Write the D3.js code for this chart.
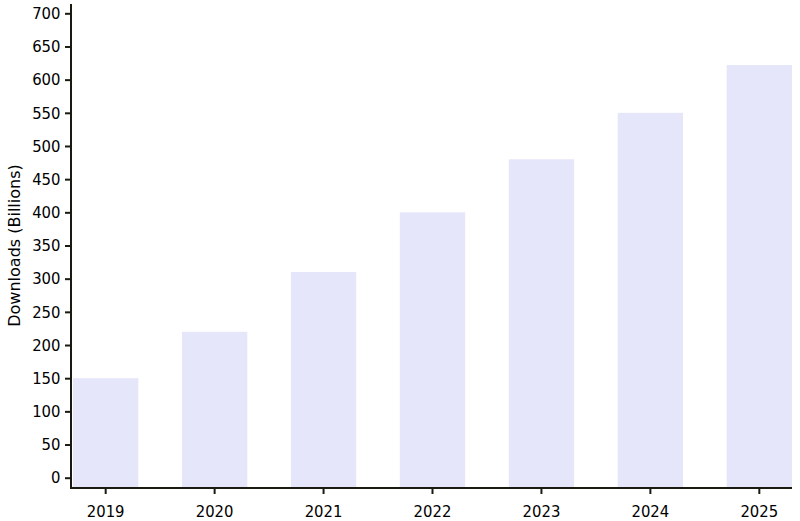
<!DOCTYPE html>
<html><head><meta charset="utf-8">
<script src="https://cdn.jsdelivr.net/npm/d3@7"></script>
<style>body{margin:0;background:#fff}svg{display:block}
.tick text{font-family:"Liberation Sans Narrow","DejaVu Sans Condensed",sans-serif}
.ylab{font-family:"DejaVu Sans",sans-serif}</style>
</head><body><svg id="c" width="800" height="521"></svg>
<script>
const years = ["2019","2020","2021","2022","2023","2024","2025"];
const downloads = [150, 220, 310, 400, 480, 550, 622];
const yTicks = [0,50,100,150,200,250,300,350,400,450,500,550,600,650,700];

const svg = d3.select("#c");
const axisColor = "#1a1a10";
const x = d3.scaleBand().domain(years).range([73, 792]).paddingInner(0.4).paddingOuter(0);
const y = d3.scaleLinear().domain([0, 700]).range([477.7, 13.3]);
const baseY = 487;

svg.append("g").selectAll("rect").data(years).join("rect")
  .attr("x", d => x(d)).attr("width", x.bandwidth())
  .attr("y", (d,i) => y(downloads[i])).attr("height", (d,i) => baseY - y(downloads[i]))
  .attr("fill", "#e6e6fa");

// y axis
const ya = svg.append("g").attr("transform","translate(71,0)")
  .call(d3.axisLeft(y).tickValues(yTicks).tickSize(6).tickPadding(4.5));
ya.select(".domain").remove();
ya.selectAll("line").attr("stroke", axisColor).attr("stroke-width", 2);
ya.selectAll("text").attr("font-size", 16.5).attr("fill","#000");
svg.append("line").attr("x1",71).attr("x2",71).attr("y1",4).attr("y2",489)
  .attr("stroke",axisColor).attr("stroke-width",2);

// x axis
const xa = svg.append("g").attr("transform","translate(0,488)")
  .call(d3.axisBottom(x).tickSize(6).tickPadding(11.5));
xa.select(".domain").remove();
xa.selectAll("line").attr("stroke", axisColor).attr("stroke-width", 2);
xa.selectAll("text").attr("font-size", 16.5).attr("fill","#000");
svg.append("line").attr("x1",70).attr("x2",792).attr("y1",488).attr("y2",488)
  .attr("stroke",axisColor).attr("stroke-width",2);

svg.append("text").attr("class","ylab").attr("transform","translate(19.5,245.5) rotate(-90)")
  .attr("text-anchor","middle").attr("font-size",16).attr("fill","#000")
  .text("Downloads (Billions)");
</script></body></html>
